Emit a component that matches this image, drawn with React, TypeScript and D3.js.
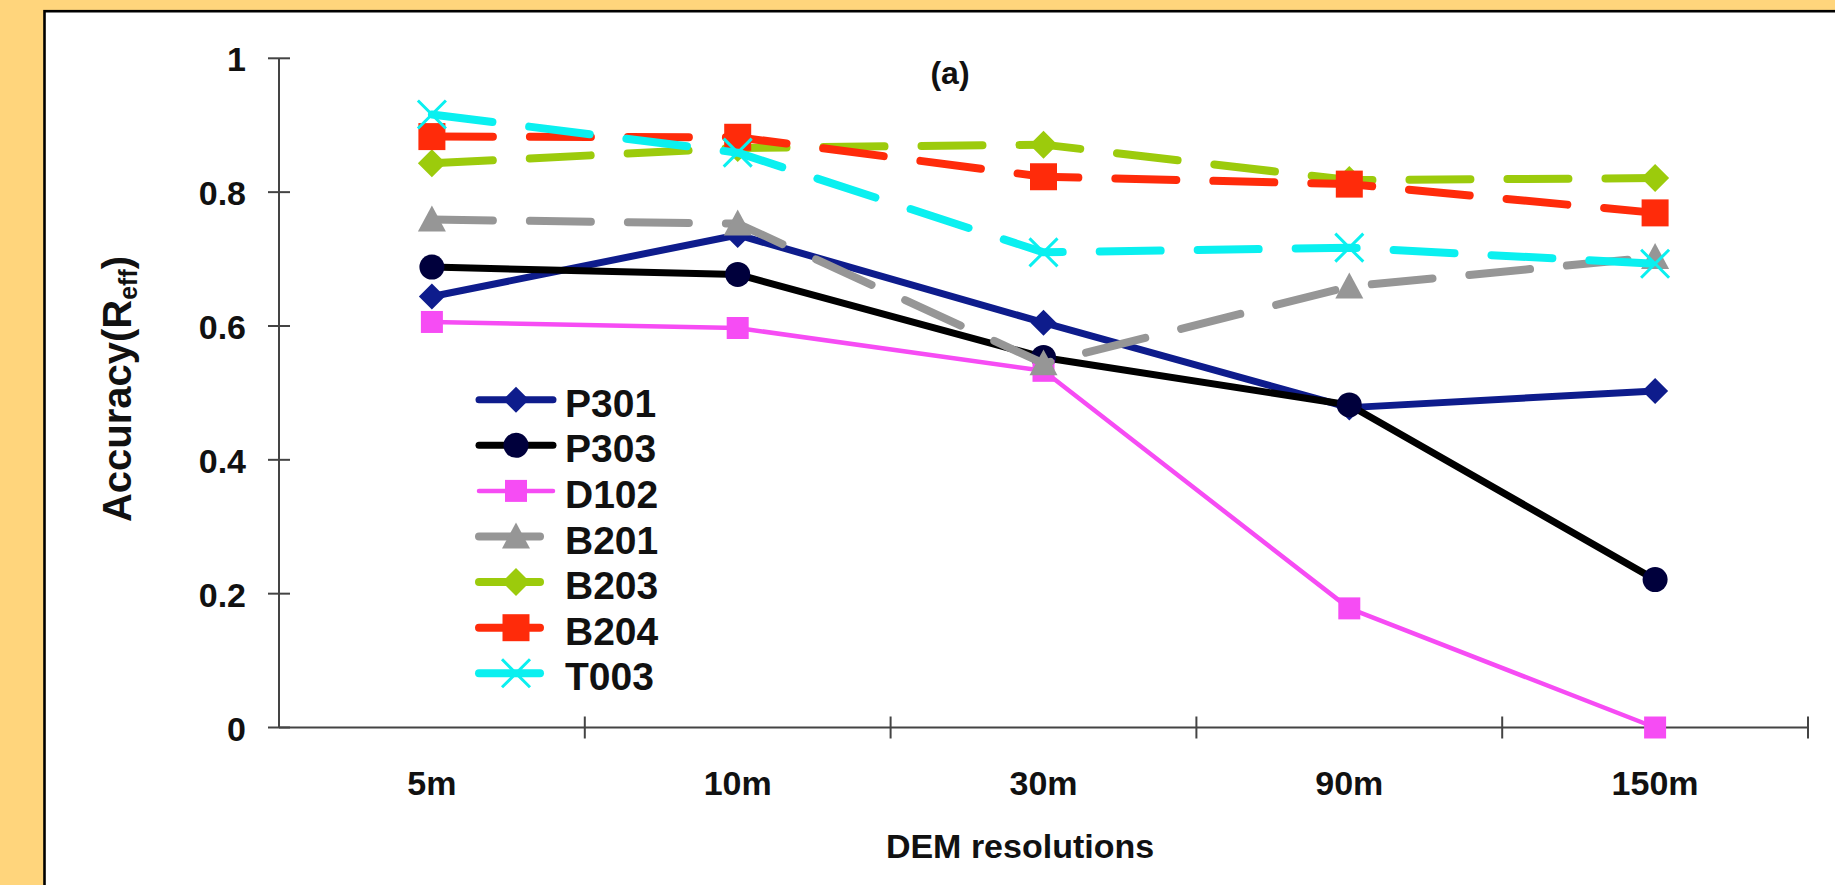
import React, { useEffect, useRef } from "react";
import * as d3 from "d3";

// DEM resolutions on the x axis
const categories = ["5m", "10m", "30m", "90m", "150m"];
const yTicks = [0, 0.2, 0.4, 0.6, 0.8, 1];

// accuracy (Reff) per catchment
const seriesNames = ["P301", "P303", "D102", "B201", "B203", "B204", "T003"];
const p301 = [0.644, 0.736, 0.605, 0.478, 0.503];
const p303 = [0.688, 0.677, 0.553, 0.482, 0.221];
const d102 = [0.606, 0.597, 0.533, 0.178, 0.0];
const b201 = [0.759, 0.753, 0.544, 0.659, 0.703];
const b203 = [0.843, 0.866, 0.871, 0.818, 0.821];
const b204 = [0.883, 0.882, 0.823, 0.812, 0.769];
const t003 = [0.916, 0.859, 0.71, 0.717, 0.693];

const seriesValues = [p301, p303, d102, b201, b203, b204, t003];

// look of each series (not data)
const styles = [
  { color: "#0E1C8C", fill: "#0E1C8C", width: 7, dash: null, marker: "diamond", size: 13 },
  { color: "#000000", fill: "#00003C", width: 7, dash: null, marker: "circle", size: 12.5 },
  { color: "#F64CF4", fill: "#F64CF4", width: 4.5, dash: null, marker: "square", size: 11 },
  { color: "#969696", fill: "#969696", width: 8, dash: "61,37", marker: "triangle", size: 14 },
  { color: "#9CCB0C", fill: "#9CCB0C", width: 8, dash: "61,37", marker: "diamond", size: 14 },
  { color: "#FF2B0A", fill: "#FF2B0A", width: 8, dash: "61,37", marker: "square", size: 13.5 },
  { color: "#0AF0F0", fill: "none", width: 8, dash: "61,37", marker: "x", size: 14 },
];

const W = 1835;
const H = 885;

function markerPath(kind: string, h: number) {
  if (kind === "diamond") return `M0,${-h}L${h},0L0,${h}L${-h},0Z`;
  if (kind === "square") return `M${-h},${-h}H${h}V${h}H${-h}Z`;
  if (kind === "triangle") return `M0,${-h}L${h},${h * 0.85}L${-h},${h * 0.85}Z`;
  if (kind === "x") return `M${-h},${-h}L${h},${h}M${h},${-h}L${-h},${h}`;
  return d3.arc()({ innerRadius: 0, outerRadius: h, startAngle: 0, endAngle: Math.PI * 2 }) as string;
}

function drawMarker(g: any, st: any, cx: number, cy: number) {
  const p = g
    .append("path")
    .attr("d", markerPath(st.marker, st.size))
    .attr("transform", `translate(${cx},${cy})`);
  if (st.marker === "x") {
    p.attr("fill", "none").attr("stroke", st.color).attr("stroke-width", 3);
  } else {
    p.attr("fill", st.fill);
  }
}

export default function App() {
  const ref = useRef<SVGSVGElement>(null);

  useEffect(() => {
    const svg = d3.select(ref.current);
    svg.selectAll("*").remove();
    svg.attr("width", W).attr("height", H);
    const font = "'Liberation Sans', Arial, sans-serif";

    // orange background and white panel
    svg.append("rect").attr("width", W).attr("height", H).attr("fill", "#FFD57C");
    svg
      .append("rect")
      .attr("x", 44.5)
      .attr("y", 11.2)
      .attr("width", W)
      .attr("height", H)
      .attr("fill", "#fff")
      .attr("stroke", "#000")
      .attr("stroke-width", 2.6);

    const x = d3.scaleBand().domain(categories).range([279, 1808]);
    const y = d3.scaleLinear().domain([0, 1]).range([727.5, 58.3]);
    const cx = (c: string) => (x(c) as number) + x.bandwidth() / 2;
    const x0 = x.range()[0];
    const x1 = x.range()[1];

    const axis = svg.append("g").attr("stroke", "#444").attr("stroke-width", 2);
    axis.append("line").attr("x1", x0).attr("x2", x0).attr("y1", y(1)).attr("y2", y(0));
    axis.append("line").attr("x1", x0).attr("x2", x1).attr("y1", y(0)).attr("y2", y(0));
    yTicks.forEach((t) => {
      axis.append("line").attr("x1", x0 - 11).attr("x2", x0 + 11).attr("y1", y(t)).attr("y2", y(t));
    });
    const edges = categories.map((c) => x(c) as number).concat([x1]);
    edges.slice(1).forEach((e) => {
      axis.append("line").attr("x1", e).attr("x2", e).attr("y1", y(0) - 11).attr("y2", y(0) + 11);
    });

    const labels = svg
      .append("g")
      .attr("font-family", font)
      .attr("font-weight", "bold")
      .attr("fill", "#111");

    yTicks.forEach((t) => {
      labels
        .append("text")
        .attr("x", 246)
        .attr("y", y(t) + 13)
        .attr("text-anchor", "end")
        .attr("font-size", 34)
        .text(d3.format("~g")(t));
    });

    categories.forEach((c) => {
      labels
        .append("text")
        .attr("x", cx(c))
        .attr("y", 795)
        .attr("text-anchor", "middle")
        .attr("font-size", 34)
        .text(c);
    });

    labels
      .append("text")
      .attr("x", 1020)
      .attr("y", 858)
      .attr("text-anchor", "middle")
      .attr("font-size", 34)
      .text("DEM resolutions");

    labels
      .append("text")
      .attr("x", 950)
      .attr("y", 84)
      .attr("text-anchor", "middle")
      .attr("font-size", 32)
      .text("(a)");

    const yt = labels
      .append("text")
      .attr("transform", `translate(131,389) rotate(-90)`)
      .attr("text-anchor", "middle")
      .attr("font-size", 40);
    yt.append("tspan").text("Accuracy(R");
    yt.append("tspan").attr("font-size", 25).attr("dy", 6).text("eff");
    yt.append("tspan").attr("dy", -6).text(")");

    // series
    const line = d3
      .line<number>()
      .x((d, i) => cx(categories[i]))
      .y((d) => y(d));

    seriesValues.forEach((vals, si) => {
      const st = styles[si];
      const g = svg.append("g");
      g.append("path")
        .attr("d", line(vals))
        .attr("fill", "none")
        .attr("stroke", st.color)
        .attr("stroke-width", st.width)
        .attr("stroke-linecap", "round")
        .attr("stroke-linejoin", "round")
        .attr("stroke-dasharray", st.dash);
      vals.forEach((v, i) => drawMarker(g, st, cx(categories[i]), y(v)));
    });

    // legend
    const lg = svg.append("g");
    seriesNames.forEach((name, i) => {
      const st = styles[i];
      const base = 416.7 + i * 45.6;
      const ly = base - 17;
      lg.append("line")
        .attr("x1", 479)
        .attr("x2", 553)
        .attr("y1", ly)
        .attr("y2", ly)
        .attr("stroke", st.color)
        .attr("stroke-width", st.width)
        .attr("stroke-linecap", "round")
        .attr("stroke-dasharray", st.dash);
      drawMarker(lg, st, 516, ly);
      lg.append("text")
        .attr("x", 565)
        .attr("y", base)
        .attr("font-family", font)
        .attr("font-weight", "bold")
        .attr("font-size", 39)
        .attr("fill", "#111")
        .text(name);
    });
  }, []);

  return <svg ref={ref} style={{ position: "absolute", left: 0, top: 0 }}></svg>;
}
